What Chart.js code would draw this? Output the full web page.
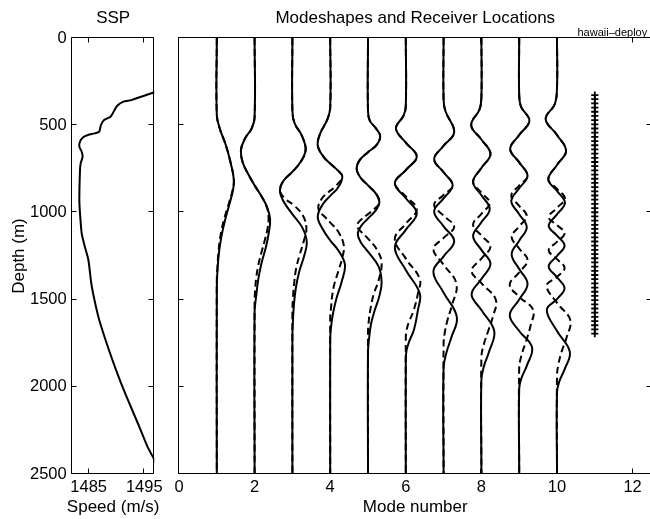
<!DOCTYPE html>
<html>
<head>
<meta charset="utf-8">
<title>SSP and modeshapes</title>
<script src="https://cdn.jsdelivr.net/npm/chart.js"></script>
<style>
  html, body { margin: 0; padding: 0; background: #fff; overflow: hidden; }
  #wrap { position: relative; width: 650px; height: 519px; overflow: hidden; background: #fff; }
  #ssp { position: absolute; left: 0; top: 0; }
  #modes { position: absolute; left: 170px; top: 0; }
</style>
</head>
<body>
<div id="wrap">
  <canvas id="ssp" width="168" height="519"></canvas>
  <canvas id="modes" width="490" height="519"></canvas>
</div>
<script>
// ---- Sound speed profile: depth (m) and speed (m/s) ----
const sspDepth = [290, 311, 356, 365, 390, 422, 451, 470, 499, 537, 547, 556, 569, 594, 623, 652, 680, 719, 757,
  929, 1005, 1120, 1197, 1273, 1407, 1502, 1617, 1789, 1942, 2057, 2209, 2343, 2420, 2500];
const sspSpeed = [1498.8, 1496.84, 1492.68, 1491.24, 1490.08, 1489.5, 1488.93, 1487.77, 1487.2, 1486.9, 1486.04,
  1484.88, 1484.01, 1483.44, 1483.32, 1483.74, 1483.91, 1483.56, 1483.44,
  1483.32, 1483.44, 1483.74, 1484.31, 1484.95, 1485.47, 1486.04, 1486.9, 1488.64, 1490.37, 1491.81, 1493.84, 1495.57, 1496.84, 1497.9];

// ---- Tick values ----
const depthTicks = [0, 500, 1000, 1500, 2000, 2500];
const speedTicks = [1485, 1495];
const modeTicks = [0, 2, 4, 6, 8, 10, 12];

// ---- Modeshapes: [depth (m), amplitude] ; each mode is drawn about its own mode number ----
const mode1Solid = [[0,0],[440,0],[520,0.08],[615,0.24],[710,0.36],[810,0.45],[870,0.43],[940,0.35],[1035,0.23],[1130,0.13],[1225,0.06],[1320,0.022],[1440,0],[2500,0]];
const mode1Dashed = [[0,0],[440,0],[520,0.08],[615,0.24],[710,0.36],[810,0.45],[870,0.42],[940,0.33],[1035,0.2],[1130,0.1],[1225,0.045],[1320,0.015],[1400,0],[2500,0]];

const mode2Solid = [[0,0],[455,0],[520,-0.08],[575,-0.25],[640,-0.36],[710,-0.32],[780,-0.17],[845,0],[910,0.19],[975,0.34],[1040,0.41],[1110,0.38],[1190,0.31],[1285,0.19],[1380,0.1],[1475,0.045],[1570,0],[2500,0]];
const mode2Dashed = [[0,0],[455,0],[520,-0.08],[575,-0.25],[640,-0.36],[710,-0.32],[780,-0.17],[845,0],[910,0.19],[975,0.33],[1035,0.37],[1095,0.34],[1160,0.27],[1230,0.18],[1300,0.1],[1380,0.04],[1460,0.01],[1510,0],[2500,0]];

const mode3Solid = [[0,0],[420,0],[490,0.06],[560,0.25],[640,0.35],[710,0.22],[767,0],[820,-0.24],[875,-0.33],[935,-0.24],[1010,0],[1090,0.27],[1170,0.38],[1250,0.31],[1340,0.18],[1435,0.09],[1530,0.04],[1630,0.012],[1710,0],[2500,0]];
const mode3Dashed = [[0,0],[420,0],[490,0.06],[560,0.25],[640,0.35],[710,0.22],[767,0],[820,-0.24],[875,-0.33],[920,-0.2],[960,0.04],[1015,0.27],[1090,0.37],[1165,0.3],[1245,0.19],[1320,0.1],[1410,0.045],[1500,0.012],[1570,0],[2500,0]];

const mode4Solid = [[0,0],[400,0],[470,-0.08],[545,-0.26],[615,-0.33],[680,-0.18],[720,0],[755,0.18],[795,0.32],[860,0.2],[905,0],[955,-0.2],[1025,-0.33],[1095,-0.2],[1160,0],[1220,0.22],[1300,0.39],[1400,0.3],[1490,0.17],[1590,0.065],[1680,0.012],[1740,0],[2500,0]];
const mode4Dashed = [[0,0],[400,0],[470,-0.08],[545,-0.26],[615,-0.33],[680,-0.18],[720,0],[755,0.18],[795,0.32],[850,0.14],[885,-0.05],[920,-0.22],[980,-0.31],[1035,-0.1],[1060,0.01],[1110,0.21],[1190,0.36],[1260,0.32],[1340,0.21],[1435,0.085],[1550,0.02],[1610,0],[2500,0]];

const mode5Solid = [[0,0],[420,0],[475,0.05],[515,0.2],[560,0.32],[610,0.24],[655,0],[700,-0.22],[750,-0.3],[800,-0.2],[845,0],[895,0.22],[945,0.3],[990,0.2],[1035,0],[1080,-0.19],[1125,-0.27],[1175,-0.18],[1225,0],[1310,0.28],[1400,0.36],[1480,0.3],[1560,0.18],[1640,0.08],[1720,0.03],[1800,0],[2500,0]];
const mode5Dashed = [[0,0],[420,0],[475,0.05],[515,0.2],[560,0.32],[610,0.24],[655,0],[700,-0.22],[750,-0.3],[800,-0.2],[845,0],[895,0.22],[945,0.3],[982,0.16],[1010,0],[1045,-0.2],[1078,-0.29],[1112,-0.18],[1150,0],[1215,0.24],[1290,0.36],[1390,0.28],[1470,0.15],[1560,0.06],[1640,0.012],[1690,0],[2500,0]];

const mode6Solid = [[0,0],[390,0],[445,-0.06],[520,-0.26],[600,0],[680,0.29],[757,0],[833,-0.29],[919,0],[1005,0.29],[1100,0],[1200,-0.29],[1330,0],[1465,0.37],[1560,0.32],[1670,0.22],[1740,0.09],[1790,0.02],[1850,0],[2500,0]];
const mode6Dashed = [[0,0],[390,0],[445,-0.06],[520,-0.26],[600,0],[680,0.29],[757,0],[833,-0.29],[908,0],[983,0.29],[1065,0],[1152,-0.29],[1265,0],[1382,0.37],[1466,0.32],[1560,0.21],[1625,0.09],[1675,0.02],[1720,0],[2500,0]];

const mode7Solid = [[0,0],[355,0],[420,0.05],[540,0.28],[618,0],[695,-0.25],[770,0],[845,0.24],[920,0],[995,-0.25],[1080,0],[1165,0.28],[1252,0],[1340,-0.27],[1460,0],[1600,0.35],[1720,0.2],[1800,0.08],[1890,0],[2500,0]];
const mode7Dashed = [[0,0],[355,0],[420,0.05],[540,0.28],[618,0],[695,-0.25],[770,0],[845,0.24],[900,0],[956,-0.25],[1019,0],[1082,0.28],[1146,0],[1211,-0.27],[1300,0],[1410,0.34],[1540,0.21],[1620,0.1],[1690,0.03],[1750,0],[2500,0]];

const mode8Solid = [[0,0],[340,0],[410,-0.05],[500,-0.27],[582,0],[665,0.24],[745,0],[825,-0.22],[902,0],[980,0.22],[1057,0],[1135,-0.22],[1215,0],[1295,0.24],[1382,0],[1470,-0.26],[1560,0],[1680,0.34],[1800,0.2],[1880,0.07],[1960,0],[2500,0]];
const mode8Dashed = [[0,0],[340,0],[410,-0.05],[500,-0.27],[582,0],[665,0.24],[745,0],[825,-0.22],[886,0],[947,0.22],[1008,0],[1070,-0.22],[1133,0],[1196,0.24],[1265,0],[1335,-0.26],[1406,0],[1500,0.38],[1600,0.3],[1680,0.18],[1760,0.06],[1830,0],[2500,0]];

const mode9Solid = [[0,0],[330,0],[395,0.05],[475,0.27],[556,0],[637,-0.24],[713,0],[790,0.22],[862,0],[935,-0.21],[1010,0],[1085,0.2],[1162,0],[1240,-0.2],[1325,0],[1410,0.22],[1500,0],[1590,-0.25],[1680,0],[1775,0.34],[1880,0.2],[1950,0.06],[2010,0],[2500,0]];
const mode9Dashed = [[0,0],[330,0],[395,0.05],[475,0.27],[556,0],[637,-0.24],[713,0],[790,0.22],[846,0],[903,-0.21],[962,0],[1020,0.2],[1080,0],[1141,-0.2],[1207,0],[1274,0.22],[1344,0],[1414,-0.25],[1484,0],[1558,0.37],[1650,0.3],[1740,0.18],[1820,0.06],[1890,0],[2500,0]];

const mode10Solid = [[0,0],[285,0],[380,-0.06],[465,-0.3],[556,0],[647,0.24],[728,0],[810,-0.23],[877,0],[945,0.21],[1011,0],[1077,-0.22],[1133,0],[1190,0.2],[1250,0],[1310,-0.22],[1372,0],[1435,0.2],[1497,0],[1560,-0.27],[1680,0],[1800,0.34],[1900,0.2],[1970,0.06],[2030,0],[2500,0]];
const mode10Dashed = [[0,0],[285,0],[380,-0.06],[465,-0.3],[556,0],[647,0.24],[728,0],[810,-0.23],[865,0],[920,0.21],[974,0],[1028,-0.22],[1073,0],[1120,0.2],[1169,0],[1217,-0.22],[1268,0],[1319,0.2],[1370,0],[1421,-0.27],[1519,0],[1617,0.35],[1720,0.25],[1800,0.12],[1880,0.03],[1940,0],[2500,0]];

const modesSolid = [mode1Solid, mode2Solid, mode3Solid, mode4Solid, mode5Solid, mode6Solid, mode7Solid, mode8Solid, mode9Solid, mode10Solid];
const modesDashed = [mode1Dashed, mode2Dashed, mode3Dashed, mode4Dashed, mode5Dashed, mode6Dashed, mode7Dashed, mode8Dashed, mode9Dashed, mode10Dashed];

// ---- Receiver array: plotted in the column after the last mode ----
const receiverColumn = 11;
const receiverDepths = [327,351,375,399,423,447,471,495,519,543,567,591,615,639,663,687,711,735,759,783,807,831,855,879,
  903,927,951,975,999,1023,1047,1071,1095,1119,1143,1167,1191,1215,1239,1263,1287,1311,1335,1359,1383,1407,1431,1455,
  1479,1503,1527,1551,1575,1599,1623,1647,1671,1695];

const FONT = '"Liberation Sans", Arial, Helvetica, sans-serif';
const tickFont = { family: FONT, size: 16.5, weight: 'normal' };
const labelFont = { family: FONT, size: 17, weight: 'normal' };
const plainNumber = v => String(v);

// Closed axes box with inward-pointing tick marks on all four sides
const boxTicks = {
  id: 'boxTicks',
  afterDatasetsDraw(chart, args, opts) {
    const { ctx, chartArea: a, scales } = chart;
    const xs = scales.x, ys = scales.y;
    const len = opts.length || 5;
    const l = Math.round(a.left) - 0.5, r = Math.round(a.right) - 0.5;
    const t = Math.round(a.top) - 0.5, b = Math.round(a.bottom) - 0.5;
    ctx.save();
    ctx.strokeStyle = '#000';
    ctx.lineWidth = 1;
    ctx.beginPath();
    ctx.rect(l, t, r - l, b - t);
    xs.ticks.forEach(tk => {
      const px = Math.round(xs.getPixelForValue(tk.value)) - 0.5;
      ctx.moveTo(px, t); ctx.lineTo(px, t + len);
      ctx.moveTo(px, b); ctx.lineTo(px, b - len);
    });
    ys.ticks.forEach(tk => {
      const py = Math.round(ys.getPixelForValue(tk.value)) - 0.5;
      ctx.moveTo(l, py); ctx.lineTo(l + len, py);
      ctx.moveTo(r, py); ctx.lineTo(r - len, py);
    });
    ctx.stroke();
    ctx.restore();
  }
};

// Free text drawn at a fixed spot (used for labels wider than their axis)
const freeText = {
  id: 'freeText',
  afterDraw(chart, args, opts) {
    const { ctx } = chart;
    (opts.items || []).forEach(it => {
      ctx.save();
      ctx.fillStyle = '#000';
      ctx.font = it.font;
      ctx.textAlign = it.align || 'left';
      ctx.textBaseline = it.baseline || 'alphabetic';
      const x = typeof it.x === 'function' ? it.x(chart) : it.x;
      ctx.fillText(it.text, x, it.y);
      ctx.restore();
    });
  }
};

const fixedTicks = values => scale => { scale.ticks = values.map(v => ({ value: v })); };

// ---- Left panel: sound speed profile ----
new Chart(document.getElementById('ssp'), {
  type: 'line',
  data: {
    datasets: [{
      data: sspDepth.map((d, i) => ({ x: sspSpeed[i], y: d })),
      borderColor: '#000', borderWidth: 2, pointRadius: 0, tension: 0.2, fill: false, clip: 0
    }]
  },
  options: {
    responsive: false, animation: false, events: [],
    layout: { padding: { left: 0, right: 10.5, top: 0, bottom: 0 } },
    plugins: {
      legend: { display: false }, tooltip: { enabled: false },
      title: { display: true, text: 'SSP', fullSize: false, color: '#000', font: labelFont, padding: { top: 8.3, bottom: 9.3 } },
      boxTicks: { length: 5 },
      freeText: { items: [{
        text: 'Speed (m/s)', font: '17px ' + FONT, align: 'center', baseline: 'middle',
        x: c => (c.chartArea.left + c.chartArea.right) / 2, y: 507.4
      }] }
    },
    scales: {
      x: {
        type: 'linear', position: 'bottom', min: 1482, max: 1496.8,
        afterBuildTicks: fixedTicks(speedTicks),
        afterFit: s => { s.height = 45; },
        grid: { display: false, drawTicks: false }, border: { display: false },
        ticks: { color: '#000', font: tickFont, padding: 3.7, maxRotation: 0, autoSkip: false, callback: plainNumber }
      },
      y: {
        type: 'linear', position: 'left', min: 0, max: 2500, reverse: true,
        afterBuildTicks: fixedTicks(depthTicks),
        afterFit: s => { s.width = 72; },
        grid: { display: false, drawTicks: false }, border: { display: false },
        ticks: { color: '#000', font: tickFont, padding: 5.3, autoSkip: false, callback: plainNumber },
        title: { display: true, text: 'Depth (m)', color: '#000', font: labelFont, padding: { top: 8.8, bottom: 0 } }
      }
    }
  },
  plugins: [boxTicks, freeText]
});

// ---- Right panel: modeshapes and receiver locations ----
const modeDatasets = [];
modesSolid.forEach((shape, i) => {
  const n = i + 1;
  modeDatasets.push({
    data: shape.map(([d, a]) => ({ x: n + a, y: d })),
    borderColor: '#000', borderWidth: 2, pointRadius: 0, tension: 0.4, fill: false
  });
});
modesDashed.forEach((shape, i) => {
  const n = i + 1;
  modeDatasets.push({
    data: shape.map(([d, a]) => ({ x: n + a, y: d })),
    borderColor: '#000', borderWidth: 2, borderDash: [7, 4], pointRadius: 0, tension: 0.4, fill: false
  });
});
modeDatasets.push({
  data: receiverDepths.map(d => ({ x: receiverColumn, y: d })),
  showLine: false, pointStyle: 'cross', pointRadius: 3.6, pointBorderWidth: 1.8,
  pointBorderColor: '#000', pointBackgroundColor: '#000', borderColor: '#000'
});

new Chart(document.getElementById('modes'), {
  type: 'line',
  data: { datasets: modeDatasets },
  options: {
    responsive: false, animation: false, events: [],
    layout: { padding: { left: 9, right: 8.5, top: 0, bottom: 0 } },
    plugins: {
      legend: { display: false }, tooltip: { enabled: false },
      title: { display: true, text: 'Modeshapes and Receiver Locations', fullSize: false, color: '#000', font: labelFont, padding: { top: 8.3, bottom: 9.3 } },
      boxTicks: { length: 5 },
      freeText: { items: [{ text: 'hawaii\u2013deploy', font: '11px ' + FONT, x: 407.5, y: 35.5 }] }
    },
    scales: {
      x: {
        type: 'linear', position: 'bottom', min: 0, max: 12.5,
        afterBuildTicks: fixedTicks(modeTicks),
        afterFit: s => { s.height = 45; },
        grid: { display: false, drawTicks: false }, border: { display: false },
        ticks: { color: '#000', font: tickFont, padding: 3.7, maxRotation: 0, autoSkip: false, callback: plainNumber },
        title: { display: true, text: 'Mode number', color: '#000', font: labelFont, padding: { top: 0, bottom: 1.4 } }
      },
      y: {
        type: 'linear', position: 'left', min: 0, max: 2500, reverse: true,
        afterBuildTicks: fixedTicks(depthTicks),
        afterFit: s => { s.width = 0; },
        grid: { display: false, drawTicks: false }, border: { display: false },
        ticks: { display: false }
      }
    }
  },
  plugins: [boxTicks, freeText]
});
</script>
</body>
</html>
